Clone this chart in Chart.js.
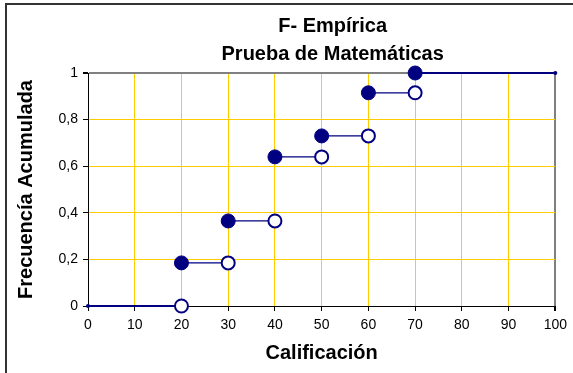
<!DOCTYPE html>
<html>
<head>
<meta charset="utf-8">
<script src="https://cdn.jsdelivr.net/npm/chart.js@4.4.1/dist/chart.umd.min.js"></script>
<style>
  body { margin: 0; background: #fff; }
</style>
</head>
<body>
<canvas id="myChart" width="573" height="373"></canvas>
<script>
const ctx = document.getElementById('myChart');

// datos de la F empirica
const calificaciones = [20, 30, 40, 50, 60, 70]
const frecAcumulada = [0.185, 0.365, 0.64, 0.73, 0.915, 1]
const frecAnterior = [0, 0.185, 0.365, 0.64, 0.73, 0.915]
const xMin = 0
const xMax = 100
const titulo = ['F- Empírica', 'Prueba de Matemáticas']

const navy = '#000080'
const amarillo = '#FFCC00'
const fuente = 'Arial, "Liberation Sans", sans-serif'

// tramos horizontales entre escalones
const tramos = []
for (let i = 0; i < calificaciones.length - 1; i++) {
    tramos.push({x: calificaciones[i], y: frecAcumulada[i]})
    tramos.push({x: calificaciones[i + 1], y: frecAcumulada[i]})
    tramos.push({x: calificaciones[i + 1], y: null})
}
const ultimo = calificaciones.length - 1
const colas = [
    {x: xMin, y: frecAnterior[0]},
    {x: calificaciones[0], y: frecAnterior[0]},
    {x: calificaciones[0], y: null},
    {x: calificaciones[ultimo], y: frecAcumulada[ultimo]},
    {x: xMax, y: frecAcumulada[ultimo]}
]

const marco = {
    id: 'marco',
    beforeDraw(chart) {
        const c = chart.ctx
        c.save()
        c.fillStyle = '#fff'
        c.fillRect(0, 0, chart.width, chart.height)
        c.strokeStyle = '#333'
        c.lineWidth = 2
        c.strokeRect(6, 4, chart.width + 20, chart.height + 20)
        c.restore()
    },
    afterDraw(chart) {
        const c = chart.ctx
        const a = chart.chartArea
        c.save()
        c.fillStyle = '#000'
        c.font = 'bold 20px ' + fuente
        c.textAlign = 'center'
        c.textBaseline = 'middle'
        const cx = (a.left + a.right) / 2 + 11
        titulo.forEach((t, i) => c.fillText(t, cx, 26 + i * 28))
        c.restore()
    }
}

let chart_1 = new Chart(ctx, {
    type: 'scatter',
    data: {
        datasets: [{
            label: 'Abiertos',
            data: calificaciones.map((x, i) => ({x: x, y: frecAnterior[i]})),
            pointRadius: 6.5,
            pointBackgroundColor: '#fff',
            pointBorderColor: navy,
            pointBorderWidth: 2,
            showLine: false,
            clip: false,
            order: 0
        }, {
            label: 'Cerrados',
            data: calificaciones.map((x, i) => ({x: x, y: frecAcumulada[i]})),
            pointRadius: 7,
            pointBackgroundColor: navy,
            pointBorderColor: navy,
            pointBorderWidth: 1,
            showLine: false,
            clip: false,
            order: 1
        }, {
            label: 'Tramos',
            data: tramos,
            showLine: true,
            spanGaps: false,
            borderColor: navy,
            borderWidth: 1.2,
            pointRadius: 0,
            order: 2
        }, {
            label: 'Colas',
            data: colas,
            showLine: true,
            spanGaps: false,
            borderColor: navy,
            borderWidth: 2,
            pointRadius: colas.map(p => (p.x === xMin || p.x === xMax) ? 2 : 0),
            pointBackgroundColor: navy,
            pointBorderWidth: 0,
            clip: false,
            order: 3
        }]
    },
    options: {
        responsive: false,
        animation: false,
        layout: {
            padding: {left: 8, right: 16, top: 73, bottom: 8}
        },
        plugins: {
            legend: {display: false},
            tooltip: {enabled: false}
        },
        scales: {
            x: {
                type: 'linear',
                min: xMin,
                max: xMax,
                afterFit(scale) { scale.height = 59 },
                ticks: {
                    stepSize: 10,
                    color: '#000',
                    font: {family: fuente, size: 14},
                    padding: 6
                },
                border: {color: '#000', width: 1},
                grid: {
                    color: c => c.tick && c.tick.value === xMax ? '#808080' : amarillo,
                    lineWidth: c => c.tick && c.tick.value === xMax ? 2 : 1,
                    tickColor: '#000',
                    tickLength: 5
                },
                title: {
                    display: true,
                    text: 'Calificación',
                    color: '#000',
                    font: {family: fuente, size: 20, weight: 'bold'},
                    padding: {top: 0, bottom: 0}
                }
            },
            y: {
                min: 0,
                max: 1,
                afterFit(scale) { scale.width = 80 },
                ticks: {
                    stepSize: 0.2,
                    color: '#000',
                    font: {family: fuente, size: 14},
                    padding: 5,
                    callback: v => (Math.round(v * 10) / 10).toString().replace('.', ',')
                },
                border: {color: '#000', width: 1},
                grid: {
                    color: c => c.tick && c.tick.value === 1 ? '#808080' : amarillo,
                    lineWidth: c => c.tick && c.tick.value === 1 ? 2 : 1,
                    tickColor: '#000',
                    tickLength: 5
                },
                title: {
                    display: true,
                    text: 'Frecuencía Acumulada',
                    color: '#000',
                    font: {family: fuente, size: 20, weight: 'bold'},
                    padding: {top: 6, bottom: 0}
                }
            }
        }
    },
    plugins: [marco]
});
</script>
</body>
</html>
